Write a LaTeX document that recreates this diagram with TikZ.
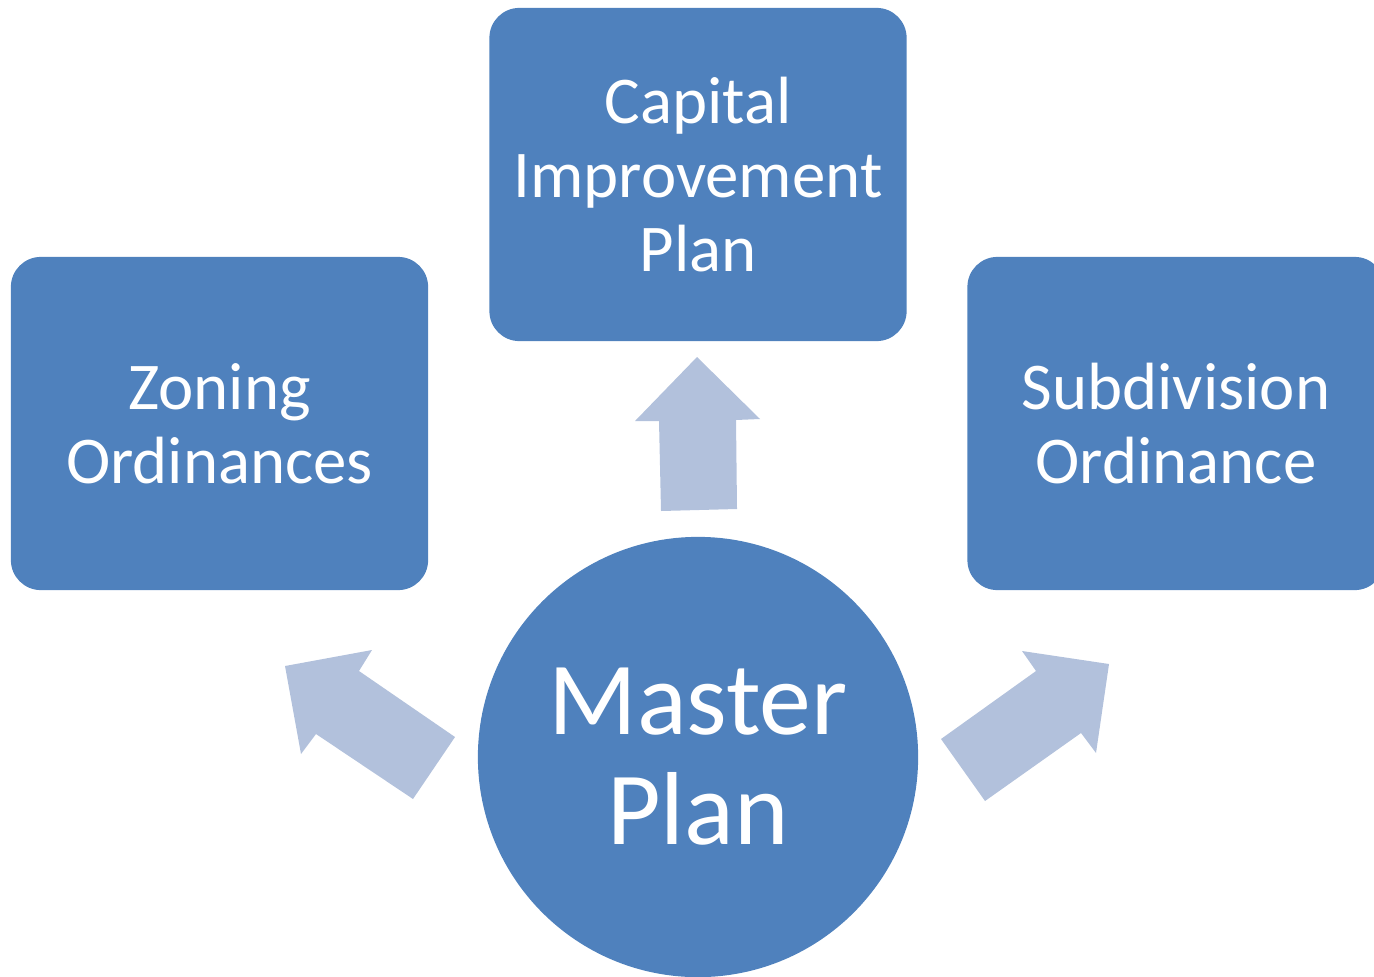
\documentclass[tikz,border=0pt]{standalone}
\usepackage{fontspec}
\setmainfont{Carlito}
\usepackage{tikz}
\usetikzlibrary{calc}

\definecolor{boxblue}{HTML}{4F81BD}
\definecolor{arrowblue}{HTML}{B2C1DC}

\begin{document}
\begin{tikzpicture}[x=0.01cm,y=-0.01cm,
	planbox/.style={fill=boxblue,rounded corners=0.3cm,minimum width=4.17cm,minimum height=3.33cm,text=white,align=center,font=\fontsize{19}{21}\selectfont},
	blockarrow/.style={fill=arrowblue}]
	\useasboundingbox (0,0) rectangle (1374,976);
	\clip (0,0) rectangle (1374,976);
	\draw (698,174.5) node (capital) [planbox] {Capital\\Improvement\\Plan};
	\draw (219.5,423.5) node (zoning) [planbox] {Zoning\\Ordinances};
	\draw (1176,423.5) node (subdiv) [planbox] {Subdivision\\Ordinance};
	\draw (698,757) node (master) [circle,fill=boxblue,minimum size=4.4cm,text=white,align=center,font=\fontsize{29.5}{31.3}\selectfont] {Master\\Plan};
	\fill[blockarrow] (661,511) -- (659,421) -- (635,421) -- (697,357) -- (760,419) -- (736,420) -- (737,509) -- cycle;
	\fill[blockarrow] (413,799) -- (455,737) -- (359,671) -- (372,650) -- (285,666) -- (301,754) -- (316,734) -- cycle;
	\fill[blockarrow] (985,801) -- (941,739) -- (1036,671) -- (1022,651) -- (1109,664) -- (1096,753) -- (1081,733) -- cycle;
\end{tikzpicture}
\end{document}
